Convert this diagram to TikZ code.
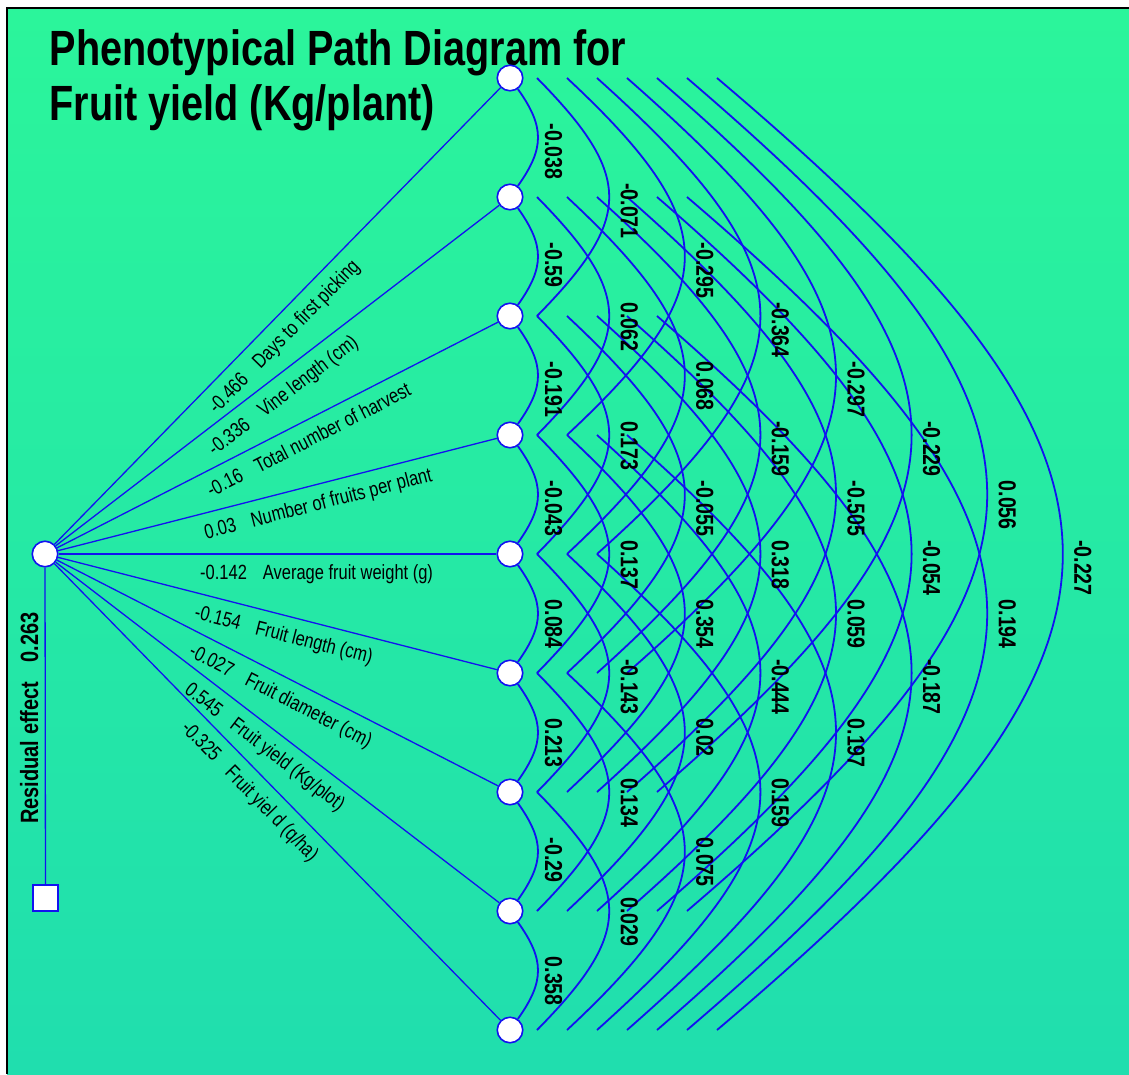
\documentclass[tikz,border=0pt]{standalone}
\usepackage{fontspec}
\newfontfamily\cfont[FakeStretch=0.8]{Liberation Sans}
\usetikzlibrary{calc}
\definecolor{lineblue}{RGB}{18,18,240}
\definecolor{bgtop}{RGB}{43,245,155}
\definecolor{bgbot}{RGB}{32,222,174}
\begin{document}
\begin{tikzpicture}[x=1pt,y=-1pt,
  vnode/.style={circle, draw=lineblue, fill=white, line width=1.6pt, minimum size=25.5pt, inner sep=0pt},
  rnode/.style={rectangle, draw=lineblue, fill=white, line width=1.6pt, minimum size=25.5pt, inner sep=0pt},
  spoke/.style={draw=lineblue, line width=1.3pt},
  curve/.style={draw=lineblue, line width=1.8pt},
  arclab/.style={font=\cfont\bfseries\fontsize{24.5}{24.5}\selectfont, rotate=-90, anchor=west, inner sep=0pt},
  spokelab/.style={font=\cfont\fontsize{20.6}{20.6}\selectfont, sloped, anchor=north west, inner xsep=0pt, inner ysep=10pt, pos=0.322},
  titlefont/.style={font=\cfont\bfseries\fontsize{49.5}{55}\selectfont, anchor=base west, inner sep=0pt}
]
\useasboundingbox (0,0) rectangle (1129,1074);
\fill[white] (0,0) rectangle (1129,1074);
\shade[top color=bgtop, bottom color=bgbot] (7,8) rectangle (1129,1074);
\draw[black, line width=1.2pt] (7,1074) -- (7,8) -- (1129,8);

% title
\node[titlefont] (t1) at (49.5,65.5) {Phenotypical Path Diagram for};
\node[titlefont] (t2) at (49.5,120) {Fruit yield (Kg/plant)};

% nodes
\node[vnode] (L) at (45,554) {};
\foreach \k in {0,...,8} \node[vnode] (N\k) at (510,{78+119*\k}) {};
\node[rnode] (R) at (45.5,898) {};

% residual
\draw[spoke] (L) -- (R);
\node[font=\cfont\bfseries\fontsize{25}{25}\selectfont, rotate=90, anchor=base west, inner sep=0pt] (reslab) at (38,824) {Residual effect\hspace{19pt}0.263};

% spokes
\draw[spoke] (L) -- (N0) node[spokelab] (s0) {-0.466\hspace{16pt}Days to first picking};
\draw[spoke] (L) -- (N1) node[spokelab] (s1) {-0.336\hspace{16pt}Vine length (cm)};
\draw[spoke] (L) -- (N2) node[spokelab] (s2) {-0.16\hspace{16pt}Total number of harvest};
\draw[spoke] (L) -- (N3) node[spokelab] (s3) {0.03\hspace{16pt}Number of fruits per plant};
\draw[spoke] (L) -- (N4) node[spokelab] (s4) {-0.142\hspace{16pt}Average fruit weight (g)};
\draw[spoke] (L) -- (N5) node[spokelab] (s5) {-0.154\hspace{16pt}Fruit length (cm)};
\draw[spoke] (L) -- (N6) node[spokelab] (s6) {-0.027\hspace{16pt}Fruit diameter (cm)};
\draw[spoke] (L) -- (N7) node[spokelab] (s7) {0.545\hspace{16pt}Fruit yield (Kg/plot)};
\draw[spoke] (L) -- (N8) node[spokelab] (s8) {-0.325\hspace{16pt}Fruit yiel d (q/ha)};

% adjacent arcs
\foreach \i in {0,...,7} {
  \pgfmathtruncatemacro\j{\i+1}
  \draw[curve] (N\i) .. controls +(34.7,48.8) and +(34.7,-48.8) .. (N\j);
}

% arc end points
\foreach \d in {2,...,8} {
  \pgfmathsetmacro\xo{477+30*\d}
  \foreach \k in {0,...,8} \coordinate (p\d n\k) at (\xo,{78+119*\k});
}

% longer arcs
\foreach \d in {2,...,8} {
  \pgfmathsetmacro\a{4*(45.6*\d-19)/3}
  \pgfmathsetmacro\h{48.8*\d}
  \pgfmathtruncatemacro\last{8-\d}
  \foreach \i in {0,...,\last} {
    \pgfmathtruncatemacro\j{\i+\d}
    \draw[curve] (p\d n\i) .. controls +(\a,\h) and +(\a,-\h) .. (p\d n\j);
  }
}

% arc labels
\foreach \d/\i/\v in {
  1/0/-0.038, 1/1/-0.59, 1/2/-0.191, 1/3/-0.043, 1/4/0.084, 1/5/0.213, 1/6/-0.29, 1/7/0.358,
  2/0/-0.071, 2/1/0.062, 2/2/0.173, 2/3/0.137, 2/4/-0.143, 2/5/0.134, 2/6/0.029,
  3/0/-0.295, 3/1/0.068, 3/2/-0.055, 3/3/0.354, 3/4/0.02, 3/5/0.075,
  4/0/-0.364, 4/1/-0.159, 4/2/0.318, 4/3/-0.444, 4/4/0.159,
  5/0/-0.297, 5/1/-0.505, 5/2/0.059, 5/3/0.197,
  6/0/-0.229, 6/1/-0.054, 6/2/-0.187,
  7/0/0.056, 7/1/0.194,
  8/0/-0.227} {
  \node[arclab] (lab\d n\i) at ({478+75.6*\d},{78+119*\i+59.5*\d-14}) {\v};
}
\end{tikzpicture}
\end{document}
